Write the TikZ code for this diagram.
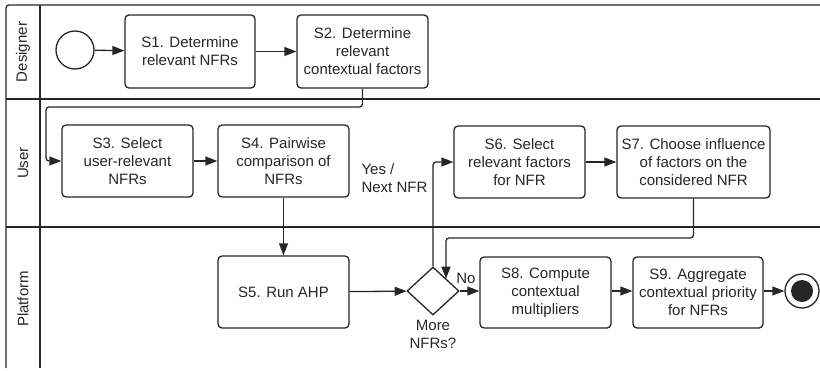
\documentclass[tikz,border=0pt]{standalone}
\usepackage{fontspec}
\setmainfont{Liberation Sans}
\usetikzlibrary{arrows.meta, shapes.geometric}

\begin{document}
\begin{tikzpicture}[x=1pt, y=-1pt,
every node/.style = {align=center, color=black!85, font=\fontsize{15}{18}\selectfont},
activity/.style = {draw=black!85, line width=1.3pt, rounded corners=4pt, minimum width=131pt, minimum height=72pt, inner sep=2pt},
gateway/.style = {draw=black!85, line width=1.3pt, diamond, minimum width=52pt, minimum height=48pt, inner sep=0pt},
startevent/.style = {draw=black!85, line width=1.3pt, circle, minimum size=38pt, inner sep=0pt},
endevent/.style = {draw=black!85, line width=1.3pt, circle, minimum size=34pt, inner sep=0pt},
lanelabel/.style = {rotate=90},
lane/.style = {draw=black!85, line width=1.3pt},
flow/.style = {draw=black!85, line width=1.3pt, rounded corners=3pt, -{Triangle[length=12pt,width=9pt]}}]
%
\useasboundingbox (0,0) rectangle (820,370);
% pool and lanes
\draw[lane, rounded corners=3pt] (820,5) -| (6,368);
\draw[lane] (40,5) -- (40,368);
\draw[lane] (6,99) -- (820,99);
\draw[lane] (6,227) -- (820,227);
\node[lanelabel] (designer) at (23,52) {Designer};
\node[lanelabel] (user) at (23,163) {User};
\node[lanelabel] (platform) at (23,299) {Platform};
%
% designer
\node[startevent] (start) at (75,50) {};
\node[activity, minimum width=130pt, minimum height=73pt] (s1) at (190,51.5) {S1. Determine\\relevant NFRs};
\node[activity, minimum height=73pt] (s2) at (362.5,51.5) {S2. Determine\\relevant\\contextual factors};
% user
\node[activity] (s3) at (127.5,161) {S3. Select\\user-relevant\\NFRs};
\node[activity] (s4) at (283.5,161) {S4. Pairwise\\comparison of\\NFRs};
\node[activity] (s6) at (519.5,162) {S6. Select\\relevant factors\\for NFR};
\node[activity, minimum width=153pt] (s7) at (693.5,162) {S7. Choose influence\\of factors on the\\considered NFR};
% platform
\node[activity] (s5) at (283.5,292) {S5. Run AHP};
\node[gateway] (more) at (433,291) {};
\node[activity, minimum height=71pt] (s8) at (545.5,292.5) {S8. Compute\\contextual\\multipliers};
\node[activity, minimum width=130pt, minimum height=71pt] (s9) at (698,292.5) {S9. Aggregate\\contextual priority\\for NFRs};
\node[endevent] (end) at (802,291) {};
\node[circle, fill=black!85, minimum size=22pt, inner sep=0pt] (endcore) at (end) {};
% labels
\node[align=left, anchor=west] (yes) at (358,178) {Yes /\\Next NFR};
\node (no) at (466,278) {No};
\node (question) at (433,334) {More\\NFRs?};
%
\coordinate (bend1) at (46,107);
\coordinate (bend2) at (446,238);
%
\draw[flow] (start) -- (s1);
\draw[flow] (s1) -- (s2);
\draw[flow] (s2.south) |- (bend1) |- (s3.west);
\draw[flow] (s3) -- (s4);
\draw[flow] (s4) -- (s5);
\draw[flow] (s5) -- (more);
\draw[flow] (more.north) |- (s6.west);
\draw[flow] (s6) -- (s7);
\draw[flow] (s7.south) |- (bend2) -- (bend2 |- more.north east);
\draw[flow] (more.east) -- (s8.west |- more.east);
\draw[flow] (s8.east |- more.east) -- (s9.west |- more.east);
\draw[flow] (s9.east |- end.west) -- (end.west);
\end{tikzpicture}
\end{document}
